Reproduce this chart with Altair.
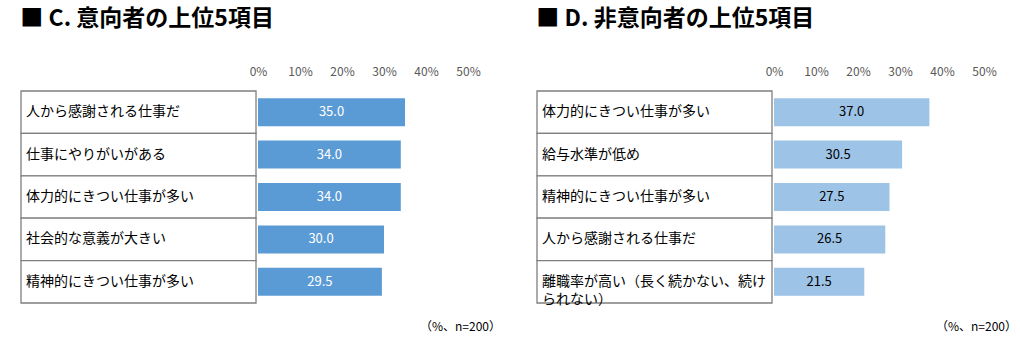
import altair as alt
import pandas as pd

FONT = "Noto Sans CJK JP"

c_title = "■ C. 意向者の上位5項目"
c_items = ["人から感謝される仕事だ", "仕事にやりがいがある", "体力的にきつい仕事が多い",
           "社会的な意義が大きい", "精神的にきつい仕事が多い"]
c_values = [35.0, 34.0, 34.0, 30.0, 29.5]

d_title = "■ D. 非意向者の上位5項目"
d_items = ["体力的にきつい仕事が多い", "給与水準が低め", "精神的にきつい仕事が多い",
           "人から感謝される仕事だ", "離職率が高い（長く続かない、続け\nられない）"]
d_values = [37.0, 30.5, 27.5, 26.5, 21.5]

tick_values = [0, 10, 20, 30, 40, 50]
footnote = "（%、n=200）"

TABLE_W = 235
BAR_W = 210
H = 212


def panel(title, items, values, bar_color, text_color):
    df = pd.DataFrame({"item": items, "value": values,
                       "label": [f"{v:.1f}" for v in values]})
    y_table = alt.Y("item:N", sort=items, axis=None,
                    scale=alt.Scale(paddingInner=0, paddingOuter=0))
    rect = alt.Chart(df).mark_rect(fill="white", stroke="#7f7f7f", strokeWidth=1.3).encode(
        y=y_table, x=alt.value(0), x2=alt.value(TABLE_W))
    txt = alt.Chart(df).mark_text(align="left", baseline="middle", fontSize=14, font=FONT,
                                  lineBreak="\n", lineHeight=18, color="black").encode(
        y=y_table, x=alt.value(5), text="item:N")
    table = (rect + txt).properties(width=TABLE_W, height=H)

    y_bar = alt.Y("item:N", sort=items, axis=None,
                  scale=alt.Scale(paddingInner=0.34, paddingOuter=0.17))
    x_bar = alt.X("value:Q", scale=alt.Scale(domain=[0, 50], nice=False),
                  axis=alt.Axis(orient="top", values=tick_values, labelExpr="datum.value + '%'",
                                domain=False, ticks=False, grid=False, title=None,
                                labelFlush=False, labelOverlap=False,
                                labelColor="#595959", labelFontSize=12, labelFont=FONT,
                                labelPadding=13))
    bars = alt.Chart(df).mark_bar(color=bar_color).encode(x=x_bar, y=y_bar)
    vals = alt.Chart(df).transform_calculate(mid="datum.value / 2").mark_text(
        fontSize=13, font=FONT, color=text_color, baseline="middle").encode(
        x=alt.X("mid:Q"), y=y_bar, text="label:N")
    note = alt.Chart(pd.DataFrame({"t": [footnote]})).mark_text(
        align="right", baseline="middle", fontSize=12, font=FONT, color="black").encode(
        x=alt.value(BAR_W + 33), y=alt.value(H + 24), text="t:N")
    barchart = (bars + vals + note).properties(width=BAR_W, height=H)

    return alt.hconcat(table, barchart, spacing=2, bounds="flush").properties(
        title=alt.TitleParams(title, anchor="start", fontSize=23, font=FONT,
                              fontWeight="bold", color="black", offset=34))


left = panel(c_title, c_items, c_values, "#5B9BD5", "white")
right = panel(d_title, d_items, d_values, "#9DC3E6", "black")

chart = alt.hconcat(left, right, spacing=35).properties(
    padding={"left": 20, "top": 8, "right": 0, "bottom": 0}
).configure_view(stroke=None)

chart.save("out.html", embed_options={"renderer": "svg", "actions": False})
